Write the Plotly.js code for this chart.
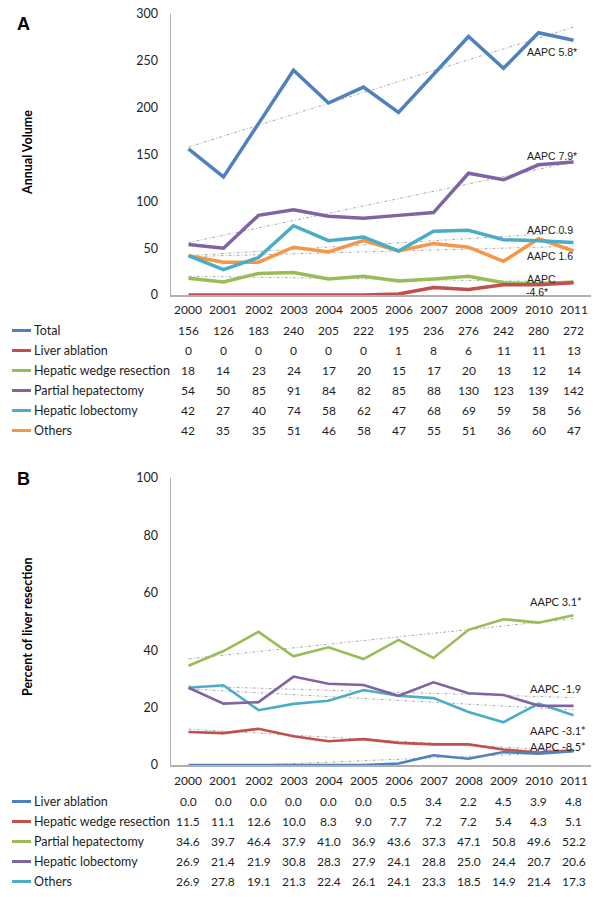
<!DOCTYPE html>
<html>
<head>
<meta charset="utf-8">
<script src="https://cdn.plot.ly/plotly-3.0.1.min.js"></script>
<style>html,body{margin:0;padding:0;background:#fff;}#chart{width:602px;height:897px;}</style>
</head>
<body>
<div id="chart"></div>
<script>
// ---------- DATA ----------
const years = [2000,2001,2002,2003,2004,2005,2006,2007,2008,2009,2010,2011];

// Panel A: annual volume
const volNames = ["Total","Liver ablation","Hepatic wedge resection","Partial hepatectomy","Hepatic lobectomy","Others"];
const volTotal     = [156,126,183,240,205,222,195,236,276,242,280,272];
const volAblation  = [0,0,0,0,0,0,1,8,6,11,11,13];
const volWedge     = [18,14,23,24,17,20,15,17,20,13,12,14];
const volPartial   = [54,50,85,91,84,82,85,88,130,123,139,142];
const volLobectomy = [42,27,40,74,58,62,47,68,69,59,58,56];
const volOthers    = [42,35,35,51,46,58,47,55,51,36,60,47];

// Panel B: percent of liver resection
const pctNames = ["Liver ablation","Hepatic wedge resection","Partial hepatectomy","Hepatic lobectomy","Others"];
const pctAblation  = [0.0,0.0,0.0,0.0,0.0,0.0,0.5,3.4,2.2,4.5,3.9,4.8];
const pctWedge     = [11.5,11.1,12.6,10.0,8.3,9.0,7.7,7.2,7.2,5.4,4.3,5.1];
const pctPartial   = [34.6,39.7,46.4,37.9,41.0,36.9,43.6,37.3,47.1,50.8,49.6,52.2];
const pctLobectomy = [26.9,21.4,21.9,30.8,28.3,27.9,24.1,28.8,25.0,24.4,20.7,20.6];
const pctOthers    = [26.9,27.8,19.1,21.3,22.4,26.1,24.1,23.3,18.5,14.9,21.4,17.3];

// Trend lines (start and end years)
const trendYears = [2000, 2011];
const trendVolTotal     = [158, 286];
const trendVolPartial   = [56, 142];
const trendVolLobectomy = [42, 67];
const trendVolOthers    = [41, 52];
const trendVolWedge     = [20, 14];
const trendPctPartial   = [37, 51];
const trendPctLobectomy = [27.5, 23.5];
const trendPctOthers    = [26.5, 19.2];
const trendPctWedge     = [12.5, 4.8];
const trendPctAblation  = [-1.0, 4.5];

// AAPC labels
const aapcA = ["AAPC 5.8*","AAPC 7.9*","AAPC 0.9","AAPC 1.6","AAPC","-4.6*"];
const aapcB = ["AAPC 3.1*","AAPC -1.9","AAPC -3.1*","AAPC -8.5*"];

// ---------- STYLE ----------
const C = {blue:"#4F81BD", red:"#C0504D", green:"#9BBB59", purple:"#8064A2", aqua:"#4BACC6", orange:"#F79646"};
const W = 602, H = 897;
const xp = px => px / W;
const yp = py => 1 - py / H;
const FONT = "Lato, 'Open Sans', sans-serif";
const txtCol = "#1e1e1e";

const traces = [];
function line(x, y, color, width, xa, ya) {
  traces.push({x:x, y:y, type:"scatter", mode:"lines", xaxis:xa, yaxis:ya,
    line:{color:color, width:width}, hoverinfo:"skip", showlegend:false});
}
function trend(y, xa, ya) {
  traces.push({x:trendYears, y:y, type:"scatter", mode:"lines", xaxis:xa, yaxis:ya,
    line:{color:"#a3a3a3", width:0.9, dash:"3px,2px,1px,2px"}, hoverinfo:"skip", showlegend:false});
}

// Panel A trends then lines
trend(trendVolTotal,"x","y"); trend(trendVolPartial,"x","y"); trend(trendVolLobectomy,"x","y");
trend(trendVolOthers,"x","y"); trend(trendVolWedge,"x","y");
const volSeries = [volTotal, volAblation, volWedge, volPartial, volLobectomy, volOthers];
const volColors = [C.blue, C.red, C.green, C.purple, C.aqua, C.orange];
[5,4,3,2,1,0].forEach(i => line(years, volSeries[i], volColors[i], 3.5, "x", "y"));

// Panel B
trend(trendPctPartial,"x2","y2"); trend(trendPctLobectomy,"x2","y2"); trend(trendPctOthers,"x2","y2");
trend(trendPctWedge,"x2","y2"); trend(trendPctAblation,"x2","y2");
const pctSeries = [pctAblation, pctWedge, pctPartial, pctLobectomy, pctOthers];
const pctColors = [C.blue, C.red, C.green, C.purple, C.aqua];
[4,3,2,1,0].forEach(i => line(years, pctSeries[i], pctColors[i], 2.6, "x2", "y2"));

// ---------- ANNOTATIONS / TABLES ----------
const ann = [];
const shapes = [];
function txt(x, y, text, opts) {
  ann.push(Object.assign({x:x, y:y, text:text, showarrow:false, xref:"paper", yref:"paper",
    xanchor:"center", yanchor:"middle", font:{family:FONT, size:12, color:txtCol}}, opts||{}));
}
function table(xref, headerY, names, series, colors, fmt) {
  years.forEach(yr => txt(yr, yp(headerY), String(yr), {xref:xref}));
  names.forEach((nm, r) => {
    const rowY = headerY + 21 + r * 20;
    shapes.push({type:"line", xref:"paper", yref:"paper", x0:xp(12), x1:xp(31), y0:yp(rowY), y1:yp(rowY),
      line:{color:colors[r], width:3}});
    txt(xp(32), yp(rowY), nm, {xanchor:"left", font:{family:FONT, size:12.5, color:txtCol}});
    series[r].forEach((v, c) => txt(years[c], yp(rowY), fmt(v), {xref:xref}));
  });
}
table("x", 309.5, volNames, volSeries, volColors, v => String(v));
table("x2", 780.5, pctNames, pctSeries, pctColors, v => v.toFixed(1));

// panel letters and axis titles
txt(xp(23), yp(24), "A", {font:{family:"Liberation Sans, Arial, sans-serif", size:18, color:"#000", weight:"bold"}});
txt(xp(23), yp(479), "B", {font:{family:"Liberation Sans, Arial, sans-serif", size:18, color:"#000", weight:"bold"}});
txt(xp(27), yp(153), "<b>Annual Volume</b>", {textangle:-90, font:{family:FONT, size:12.5, color:"#000"}});
txt(xp(27), yp(627), "<b>Percent of liver resection</b>", {textangle:-90, font:{family:FONT, size:12.5, color:"#000"}});

// AAPC labels
const aFont = {family:"Liberation Sans, Arial, sans-serif", size:10.5, color:"#222"};
const aPos = [[525,52],[525,156],[525,230],[525,256],[525,279],[524,292]];
aapcA.forEach((t,i) => txt(xp(aPos[i][0]), yp(aPos[i][1]), t, {xanchor:"left", font:aFont}));
const bFont = {family:FONT, size:11, color:"#222"};
const bPos = [[528,601],[528,688],[528,730],[528,746]];
aapcB.forEach((t,i) => txt(xp(bPos[i][0]), yp(bPos[i][1]), t, {xanchor:"left", font:bFont}));

// ---------- LAYOUT ----------
const axX = {domain:[xp(171), xp(591)], range:[1999.5, 2011.5], showticklabels:false, ticks:"",
  showline:true, linecolor:"#B0B0B0", linewidth:1.5, showgrid:false, zeroline:false, fixedrange:true};
const axY = {showline:true, linecolor:"#B0B0B0", linewidth:1.5, ticks:"", showgrid:false, zeroline:false,
  tickfont:{family:FONT, size:12.5, color:txtCol}, ticklabelstandoff:9, fixedrange:true};

const layout = {
  width:W, height:H, margin:{l:0, r:0, t:0, b:0},
  paper_bgcolor:"#fff", plot_bgcolor:"#fff", showlegend:false,
  xaxis: Object.assign({}, axX, {anchor:"y"}),
  yaxis: Object.assign({}, axY, {anchor:"x", domain:[yp(295), yp(14)], range:[0,300], dtick:50}),
  xaxis2: Object.assign({}, axX, {anchor:"y2"}),
  yaxis2: Object.assign({}, axY, {anchor:"x2", domain:[yp(765), yp(478)], range:[0,100], dtick:20}),
  annotations: ann, shapes: shapes
};

Plotly.newPlot("chart", traces, layout, {staticPlot:true, displayModeBar:false});
</script>
</body>
</html>
